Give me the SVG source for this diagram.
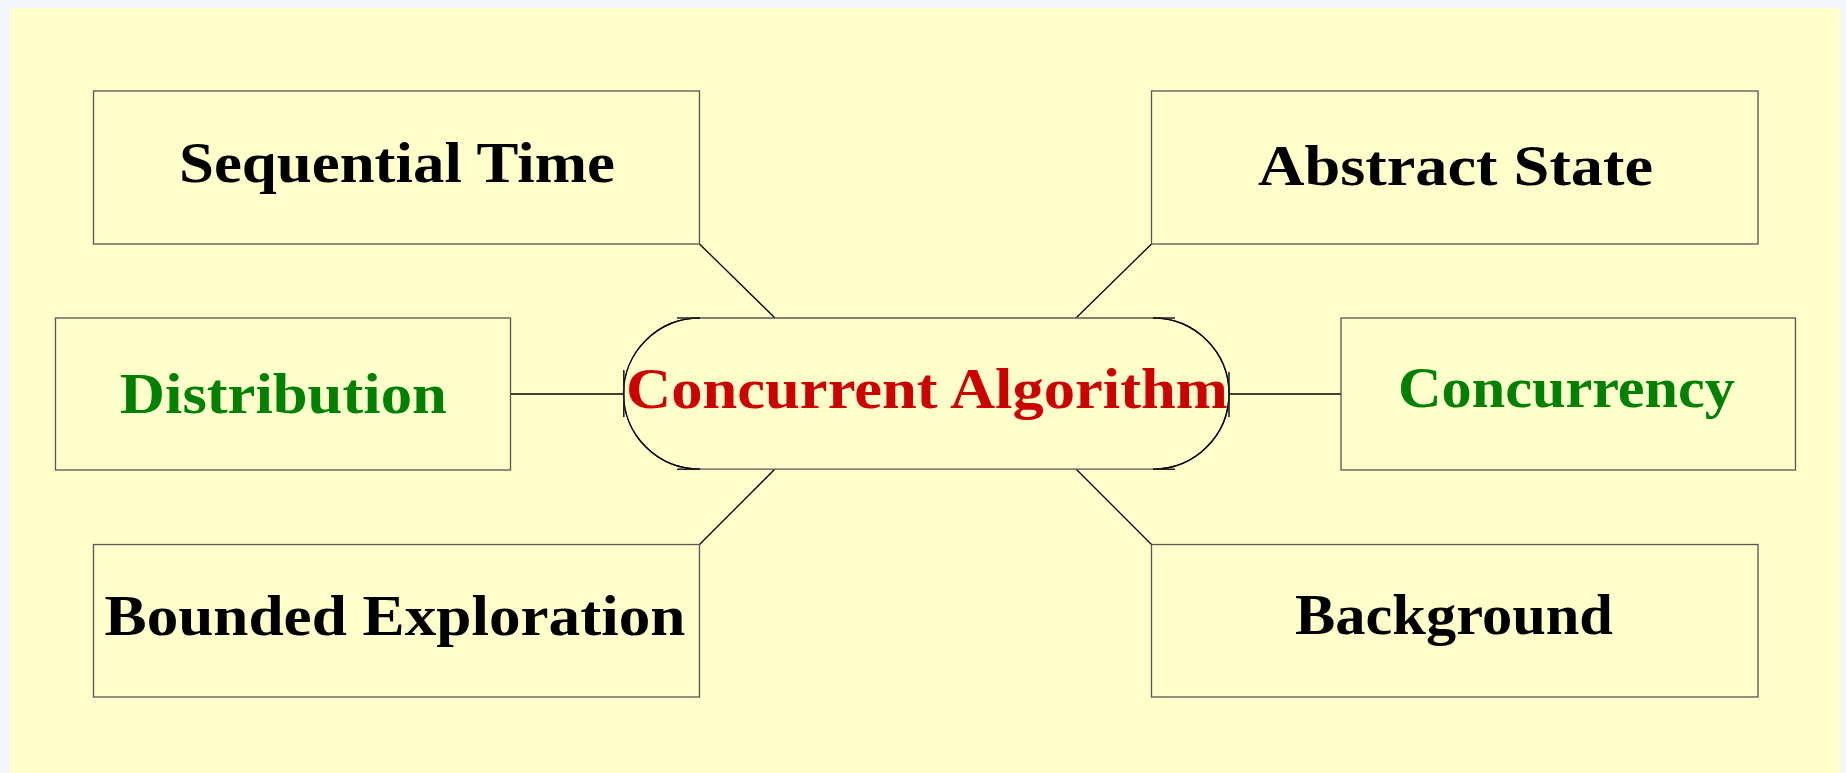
<svg xmlns="http://www.w3.org/2000/svg" width="1846" height="773" viewBox="0 0 1846 773">
<style>
.box{fill:#ffffcc;stroke:#555555;stroke-width:1.3}
.lbl{font-family:"Liberation Serif","DejaVu Serif",serif;font-weight:bold;font-size:56px;text-anchor:middle}
.blk{fill:#000000}
.grn{fill:#008000}
.red{fill:#cc0000}
.conn{stroke:#000000;stroke-width:1.3;fill:none}
.tick{stroke:#222222;stroke-width:1.6;fill:none}
</style>
<rect x="0" y="0" width="1846" height="773" fill="#f4f6fc"/>
<rect x="10" y="8" width="1830.5" height="765" fill="#ffffcc"/>
<g id="connectors">
<line class="conn" x1="699.5" y1="244" x2="775" y2="318"/>
<line class="conn" x1="1151.5" y1="244" x2="1076" y2="318"/>
<line class="conn" x1="510.5" y1="394" x2="623.5" y2="394"/>
<line class="conn" x1="1229" y1="394" x2="1341" y2="394"/>
<line class="conn" x1="699.5" y1="544.5" x2="775" y2="469"/>
<line class="conn" x1="1151.5" y1="544.5" x2="1076" y2="469"/>
</g>
<g id="node-sequential-time">
<rect class="box" x="93.5" y="91" width="606" height="153"/>
<text class="lbl blk" x="397" y="181.7" textLength="436" lengthAdjust="spacingAndGlyphs">Sequential Time</text>
</g>
<g id="node-abstract-state">
<rect class="box" x="1151.5" y="91" width="606.5" height="153"/>
<text class="lbl blk" x="1455.5" y="185" textLength="395" lengthAdjust="spacingAndGlyphs">Abstract State</text>
</g>
<g id="node-distribution">
<rect class="box" x="55.5" y="318" width="455" height="152"/>
<text class="lbl grn" x="283.3" y="413.3" textLength="327" lengthAdjust="spacingAndGlyphs">Distribution</text>
</g>
<g id="node-concurrency">
<rect class="box" x="1341" y="318" width="454.5" height="152"/>
<text class="lbl grn" x="1566.5" y="407.3" textLength="337" lengthAdjust="spacingAndGlyphs">Concurrency</text>
</g>
<g id="node-bounded-exploration">
<rect class="box" x="93.5" y="544.5" width="606" height="152.5"/>
<text class="lbl blk" x="395" y="634.5" textLength="581" lengthAdjust="spacingAndGlyphs">Bounded Exploration</text>
</g>
<g id="node-background">
<rect class="box" x="1151.5" y="544.5" width="606.5" height="152.5"/>
<text class="lbl blk" x="1454" y="634.3" textLength="318" lengthAdjust="spacingAndGlyphs">Background</text>
</g>
<g id="node-concurrent-algorithm">
<path d="M700 318 L1153 318 A76 75.6 0 0 1 1229 393.6 A76 75.6 0 0 1 1153 469.2 L700 469.2 A76.5 75.6 0 0 1 623.5 393.6 A76.5 75.6 0 0 1 700 318 Z" fill="#ffffcc" stroke="#555555" stroke-width="1.3"/>
<path d="M700 318 A76.5 75.6 0 0 0 623.5 393.6 A76.5 75.6 0 0 0 700 469.2 M1153 318 A76 75.6 0 0 1 1229 393.6 A76 75.6 0 0 1 1153 469.2" fill="none" stroke="#000000" stroke-width="1.4"/>
<path class="tick" d="M677 318 H700 M677 469.2 H700 M1153 318 H1175 M1153 469.2 H1175 M623.8 370 V417 M1229 372 V417"/>
<text class="lbl red" x="927" y="407.5" textLength="602" lengthAdjust="spacingAndGlyphs">Concurrent Algorithm</text>
</g>
</svg>
